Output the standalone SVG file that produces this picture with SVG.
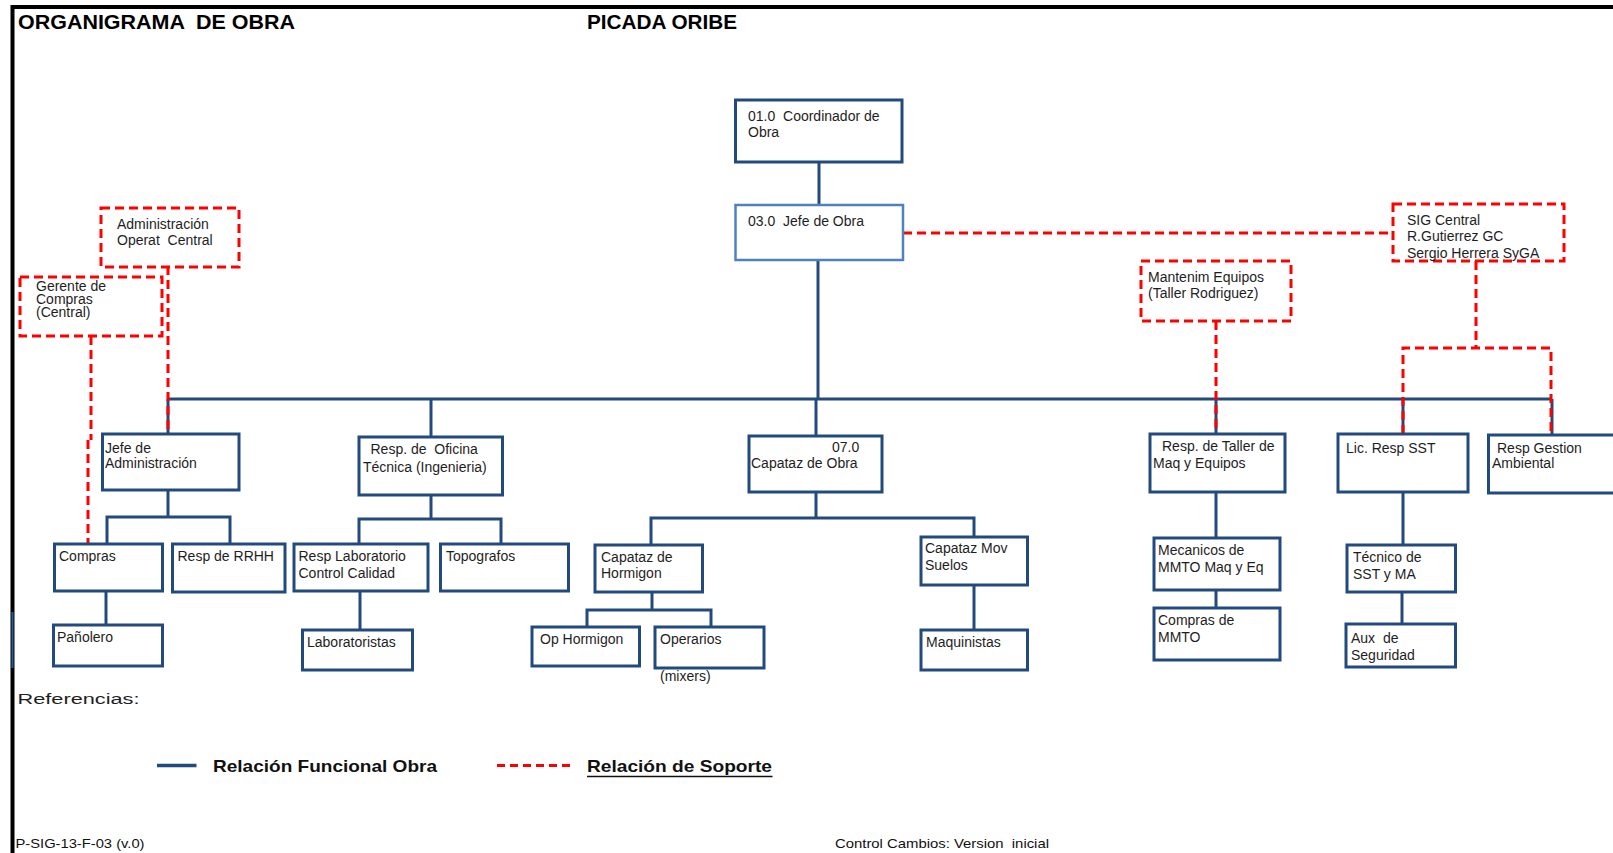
<svg xmlns="http://www.w3.org/2000/svg" width="1613" height="853" viewBox="0 0 1613 853">
<style>
text{font-family:"Liberation Sans",Arial,sans-serif;font-size:14px;fill:#1e1e1e;white-space:pre}
.box{fill:#fff;stroke:#234a7c;stroke-width:3}
.boxl{fill:#fff;stroke:#4f81bd;stroke-width:2.5}
.sup{fill:#fff;stroke:#ff0000;stroke-width:3;stroke-dasharray:9 5}
.fn{fill:none;stroke:#234a7c;stroke-width:3}
.sp{fill:none;stroke:#ff0000;stroke-width:3;stroke-dasharray:9 5}
.title{font-size:20px;font-weight:bold;fill:#000}
.leg{font-size:17px;font-weight:bold;fill:#111}
.foot{font-size:13.5px;fill:#111}
</style>
<rect x="0" y="0" width="1613" height="853" fill="#fff"/>
<g id="frame">
<path d="M12.5,853 V7 H1613" fill="none" stroke="#000" stroke-width="4"/>
<path d="M12.5,612 V668" stroke="#2c5a99" stroke-width="2"/>
</g>
<text class="title" x="18" y="29" textLength="277" lengthAdjust="spacingAndGlyphs">ORGANIGRAMA  DE OBRA</text>
<text class="title" x="587" y="29" textLength="150" lengthAdjust="spacingAndGlyphs">PICADA ORIBE</text>

<g id="connectors">
<path class="fn" d="M819,162 V205"/>
<path class="fn" d="M818,260 V399"/>
<path class="fn" d="M168,399 H1217" stroke-width="4"/>
<path class="fn" d="M1217,399 H1552" stroke-width="2.5"/>
<path class="fn" d="M168,399 V434"/>
<path class="fn" d="M431,399 V437"/>
<path class="fn" d="M816,399 V436"/>
<path class="fn" d="M1216,399 V434"/>
<path class="fn" d="M1403,399 V434"/>
<path class="fn" d="M1552,399 V435"/>
<path class="fn" d="M168,490 V517 M107,544 V517 H230 V544"/>
<path class="fn" d="M431,495 V519 M359,544 V519 H501 V544"/>
<path class="fn" d="M106,591 V625" stroke-width="2"/>
<path class="fn" d="M360,591 V630" stroke-width="2"/>
<path class="fn" d="M816,492 V518 M651,545 V518 H974 V537"/>
<path class="fn" d="M652,592 V610 M587,627 V610 H711 V627"/>
<path class="fn" d="M974,585 V630"/>
<path class="fn" d="M1216,492 V538"/>
<path class="fn" d="M1216,590 V608"/>
<path class="fn" d="M1403,492 V545" stroke-width="2"/>
<path class="fn" d="M1402,592 V624" stroke-width="2"/>
<path class="sp" d="M903,233 H1393"/>
<path class="sp" d="M1476,261 V348"/>
<path class="sp" d="M1403,434 V348 H1551 V435"/>
<path class="sp" d="M1216,321 V434"/>
<path class="sp" d="M168,266 V434"/>
<path class="sp" d="M91,336 V440 M88,440 V544"/>
</g>

<g id="n-coordinador"><rect class="box" x="735.5" y="100" width="166.5" height="62"/><text x="748" y="121">01.0  Coordinador de</text><text x="748" y="137">Obra</text></g>
<g id="n-jefe-obra"><rect class="boxl" x="735.5" y="205" width="167.5" height="55"/><text x="748" y="226">03.0  Jefe de Obra</text></g>
<g id="n-admin-central"><rect class="sup" x="101" y="208" width="138" height="59"/><text x="117" y="229">Administración</text><text x="117" y="245">Operat  Central</text></g>
<g id="n-gerente-compras"><rect class="sup" x="20" y="277" width="142" height="59"/><text x="36" y="291" font-size="13">Gerente de</text><text x="36" y="304" font-size="13">Compras</text><text x="36" y="317" font-size="13">(Central)</text></g>
<g id="n-sig-central"><rect class="sup" x="1393" y="204" width="171" height="57"/><text x="1407" y="225">SIG Central</text><text x="1407" y="241">R.Gutierrez GC</text><text x="1407" y="258">Sergio Herrera SyGA</text></g>
<g id="n-mantenim"><rect class="sup" x="1141" y="261" width="150" height="60"/><text x="1148" y="282">Mantenim Equipos</text><text x="1148" y="298">(Taller Rodriguez)</text></g>

<g id="n-jefe-admin"><rect class="box" x="102.5" y="434" width="136.5" height="56"/><text x="105" y="453">Jefe de</text><text x="105" y="468">Administración</text></g>
<g id="n-oficina-tecnica"><rect class="box" x="359" y="437" width="143.5" height="58"/><text x="370.5" y="454">Resp. de  Oficina</text><text x="363" y="472">Técnica (Ingenieria)</text></g>
<g id="n-capataz-obra"><rect class="box" x="749" y="436" width="133" height="56"/><text x="832" y="452">07.0</text><text x="751" y="468">Capataz de Obra</text></g>
<g id="n-resp-taller"><rect class="box" x="1150" y="434" width="135" height="58"/><text x="1162" y="451">Resp. de Taller de</text><text x="1153" y="468">Maq y Equipos</text></g>
<g id="n-lic-sst"><rect class="box" x="1338" y="434" width="130" height="58"/><text x="1346" y="453">Lic. Resp SST</text></g>
<g id="n-gestion-ambiental"><rect class="box" x="1488.5" y="435" width="126" height="58"/><text x="1497" y="453">Resp Gestion</text><text x="1492" y="468">Ambiental</text></g>

<g id="n-compras"><rect class="box" x="54.5" y="544" width="108" height="47"/><text x="59" y="561">Compras</text></g>
<g id="n-rrhh"><rect class="box" x="172.5" y="544" width="112.5" height="48"/><text x="177.5" y="561">Resp de RRHH</text></g>
<g id="n-resp-lab"><rect class="box" x="294" y="544" width="134" height="47"/><text x="298.5" y="561">Resp Laboratorio</text><text x="298.5" y="578">Control Calidad</text></g>
<g id="n-topografos"><rect class="box" x="440.5" y="544" width="128" height="47"/><text x="446" y="561">Topografos</text></g>
<g id="n-capataz-hormigon"><rect class="box" x="595" y="545" width="107.5" height="47"/><text x="601" y="562">Capataz de</text><text x="601" y="578">Hormigon</text></g>
<g id="n-capataz-mov"><rect class="box" x="921" y="537" width="106.5" height="48"/><text x="925" y="553">Capataz Mov</text><text x="925" y="570">Suelos</text></g>
<g id="n-mecanicos"><rect class="box" x="1154" y="538" width="126" height="52"/><text x="1158" y="555">Mecanicos de</text><text x="1158" y="572">MMTO Maq y Eq</text></g>
<g id="n-compras-mmto"><rect class="box" x="1154" y="608" width="126" height="52"/><text x="1158" y="625">Compras de</text><text x="1158" y="642">MMTO</text></g>
<g id="n-tecnico-sst"><rect class="box" x="1347" y="545" width="108.5" height="47"/><text x="1353" y="562">Técnico de</text><text x="1353" y="579">SST y MA</text></g>
<g id="n-aux-seguridad"><rect class="box" x="1346" y="624" width="109.5" height="43"/><text x="1351" y="643">Aux  de</text><text x="1351" y="660">Seguridad</text></g>

<g id="n-panolero"><rect class="box" x="53.5" y="625" width="109" height="41"/><text x="57" y="642">Pañolero</text></g>
<g id="n-laboratoristas"><rect class="box" x="302.5" y="630" width="110" height="40"/><text x="307" y="647">Laboratoristas</text></g>
<g id="n-op-hormigon"><rect class="box" x="532" y="627" width="107.5" height="39"/><text x="540" y="644">Op Hormigon</text></g>
<g id="n-operarios"><rect class="box" x="655" y="627" width="109" height="41"/><text x="660" y="644">Operarios</text><text x="660" y="681" font-size="12.5">(mixers)</text></g>
<g id="n-maquinistas"><rect class="box" x="921" y="630" width="106.5" height="40"/><text x="926" y="647">Maquinistas</text></g>

<g id="legend">
<text x="17.5" y="704" font-size="21" textLength="122" lengthAdjust="spacingAndGlyphs">Referencias:</text>
<path d="M157,765.5 H196.5" stroke="#234a7c" stroke-width="3.5"/>
<text class="leg" x="213" y="772" textLength="224" lengthAdjust="spacingAndGlyphs">Relación Funcional Obra</text>
<path d="M497,765.5 H571" stroke="#ff0000" stroke-width="3" stroke-dasharray="8 5"/>
<text class="leg" x="587" y="772" textLength="185" lengthAdjust="spacingAndGlyphs">Relación de Soporte</text>
<path d="M587,776.5 H772.5" stroke="#111" stroke-width="1.5"/>
</g>
<g id="footer">
<text class="foot" x="15.5" y="848" textLength="129" lengthAdjust="spacingAndGlyphs">P-SIG-13-F-03 (v.0)</text>
<text class="foot" x="835" y="848" textLength="214" lengthAdjust="spacingAndGlyphs">Control Cambios: Version  inicial</text>
</g>
</svg>
